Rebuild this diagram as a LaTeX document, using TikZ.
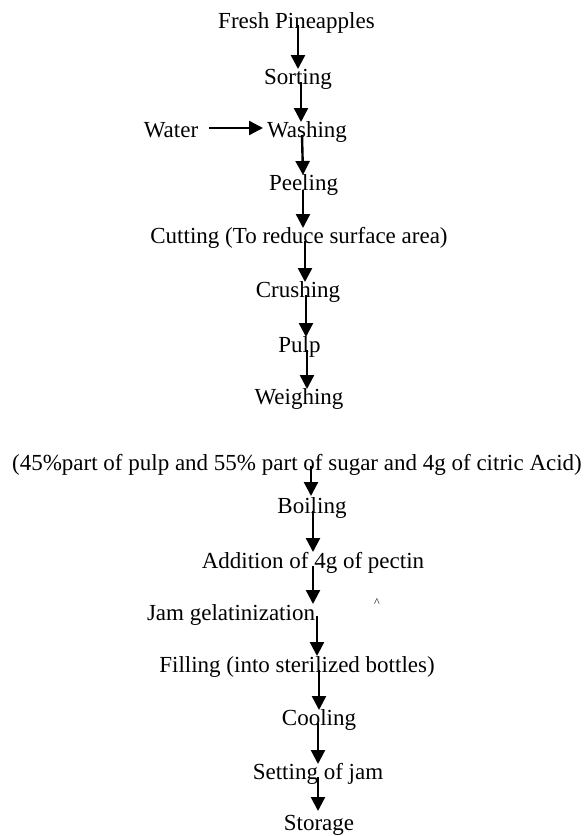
\documentclass[tikz,border=0pt]{standalone}
\usepackage{fontspec}
\setmainfont{Liberation Serif}
\usetikzlibrary{arrows.meta,calc}
\begin{document}
\begin{tikzpicture}[x=1pt,y=-1pt,
  lbl/.style={anchor=base,inner sep=0pt,font=\fontsize{23}{26}\selectfont},
  arr/.style={line width=2.4pt,-{Triangle[width=14pt,length=14pt]}}]
\useasboundingbox[fill=white] (0,0) rectangle (588,836);
\node[lbl] (fresh) at (296.5,28) {Fresh Pineapples};
\node[lbl] (sort) at (298,84) {Sorting};
\node[lbl] (wash) at (307,137) {Washing};
\node[lbl] (water) at (171,137) {Water};
\node[lbl] (peel) at (303.5,190) {Peeling};
\node[lbl] (cut) at (299,243) {Cutting (To reduce surface area)};
\node[lbl] (crush) at (298,297) {Crushing};
\node[lbl] (pulp) at (299.5,352) {Pulp};
\node[lbl] (weigh) at (299,404) {Weighing};
\node[lbl] (mix) at (297,470) {(45\%part of pulp and 55\% part of sugar and 4g of citric Acid)};
\node[lbl] (boil) at (312,513) {Boiling};
\node[lbl] (add) at (313,568) {Addition of 4g of pectin};
\node[lbl] (jam) at (231,620) {Jam gelatinization};
\node[lbl,font=\fontsize{12}{14}\selectfont] (hat) at (377,606) {\^{}};
\node[lbl] (fill) at (297,672) {Filling (into sterilized bottles)};
\node[lbl] (cool) at (319,725) {Cooling};
\node[lbl] (set) at (318,779) {Setting of jam};
\node[lbl] (store) at (319,830) {Storage};
\draw[arr] ($(fresh.base)+(1.5,-3)$) -- ($(sort.base)+(0,-15)$);
\draw[arr] ($(sort.base)+(3,-2)$) -- ($(wash.base)+(-6,-15)$);
\draw[arr] ($(wash.base)+(-5,-2)$) -- ($(peel.base)+(-0.5,-15)$);
\draw[arr] ($(peel.base)+(-0.5,0)$) -- ($(cut.base)+(4,-15)$);
\draw[arr] ($(cut.base)+(6,-2)$) -- ($(crush.base)+(7,-15)$);
\draw[arr] ($(crush.base)+(8,-2)$) -- ($(pulp.base)+(6.5,-15)$);
\draw[arr] ($(pulp.base)+(7.5,-2)$) -- ($(weigh.base)+(8,-15)$);
\draw[arr] ($(mix.base)+(14,-4)$) -- ($(boil.base)+(-1,-17)$);
\draw[arr] ($(boil.base)+(1,-2)$) -- ($(add.base)+(0,-16)$);
\draw[arr] ($(add.base)+(0,-2)$) -- ($(jam.base)+(82,-16)$);
\draw[arr] ($(jam.base)+(86,-4)$) -- ($(fill.base)+(20,-16)$);
\draw[arr] ($(fill.base)+(22,-2)$) -- ($(cool.base)+(0,-15)$);
\draw[arr] ($(cool.base)+(-1,-2)$) -- ($(set.base)+(0,-15)$);
\draw[arr] ($(set.base)+(0,-2)$) -- ($(store.base)+(-1,-19)$);
\draw[arr] ($(water.base)+(38,-9)$) -- ($(wash.base)+(-44,-9)$);
\end{tikzpicture}
\end{document}
